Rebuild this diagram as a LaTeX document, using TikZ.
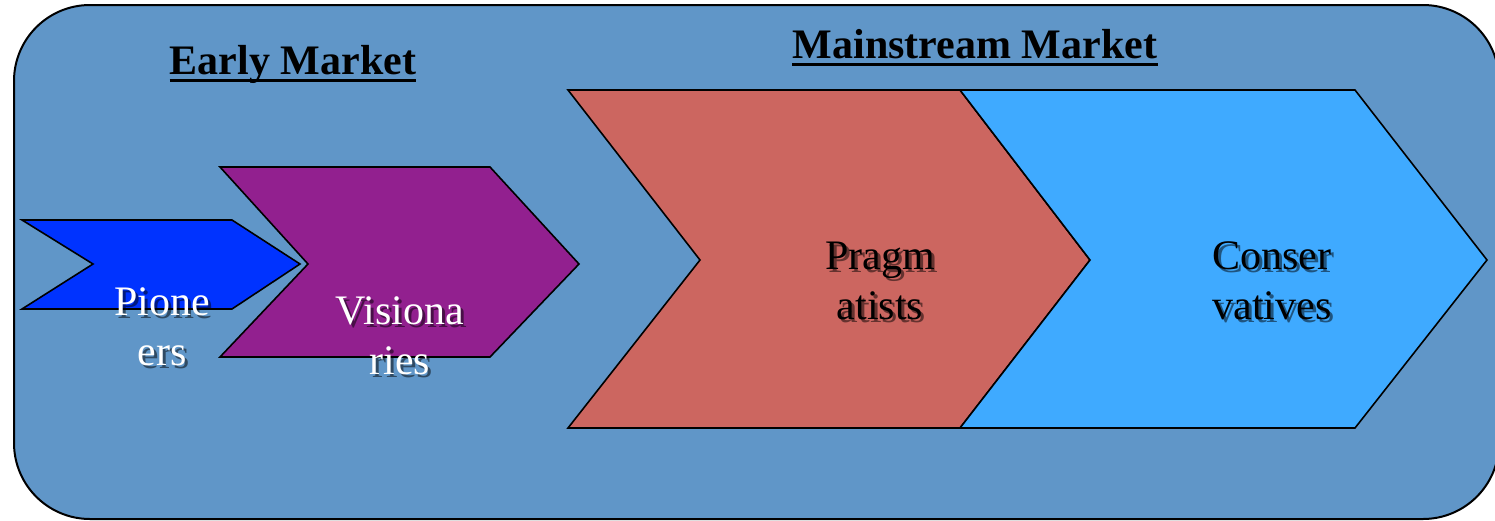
\documentclass[tikz,border=0pt]{standalone}
\usepackage{fontspec}
\setmainfont{Liberation Serif}
\definecolor{bgblue}{HTML}{6096C8}
\definecolor{pionblue}{HTML}{0033FF}
\definecolor{vispurple}{HTML}{92208F}
\definecolor{pragred}{HTML}{CC6660}
\definecolor{conslight}{HTML}{3FAAFF}
\tikzset{
  chev/.style={draw=black, line width=0.8pt, line join=miter},
  hdr/.style={font=\fontsize{21pt}{24pt}\selectfont\bfseries, inner sep=0pt, anchor=base},
  lbl/.style={font=\fontsize{21pt}{25pt}\selectfont, align=center, inner sep=0pt},
  shad/.style={lbl, text=black, opacity=0.5},
}
\begin{document}
\begin{tikzpicture}[x=0.5pt,y=-0.5pt]
\useasboundingbox (0,0) rectangle (1495,520);
% background panel
\draw[fill=bgblue, draw=black, line width=1pt, rounded corners=38pt] (14,5) rectangle (1499,519);
% chevrons
\draw[chev, fill=pionblue] (22,220) -- (232,220) -- (300,264) -- (232,309) -- (22,309) -- (93,264) -- cycle;
\draw[chev, fill=vispurple] (220,167) -- (490,167) -- (579,264) -- (490,357) -- (220,357) -- (308,264) -- cycle;
\draw[chev, fill=pragred] (568,90) -- (960,90) -- (1090,260) -- (960,428) -- (568,428) -- (700,260) -- cycle;
\draw[chev, fill=conslight] (960,90) -- (1355,90) -- (1487,260) -- (1355,428) -- (960,428) -- (1090,260) -- cycle;
% headings
\node[hdr] (early) at (293,74) {Early Market};
\draw[line width=1.5pt] ([yshift=-3pt]early.base west) -- ([yshift=-3pt]early.base east);
\node[hdr] (main) at (975,58) {Mainstream Market};
\draw[line width=1.5pt] ([yshift=-3pt]main.base west) -- ([yshift=-3pt]main.base east);
% label shadows
\node[shad] (pionS) at (165,330) {Pione\\ers};
\node[shad] (visS) at (403,339) {Visiona\\ries};
\node[shad] (pragS) at (883,284) {Pragm\\atists};
\node[shad] (consS) at (1275,284) {Conser\\vatives};
% labels
\node[lbl, text=white] (pion) at (162,327) {Pione\\ers};
\node[lbl, text=white] (vis) at (400,336) {Visiona\\ries};
\node[lbl, text=black] (prag) at (880,281) {Pragm\\atists};
\node[lbl, text=black] (cons) at (1272,281) {Conser\\vatives};
\end{tikzpicture}
\end{document}
